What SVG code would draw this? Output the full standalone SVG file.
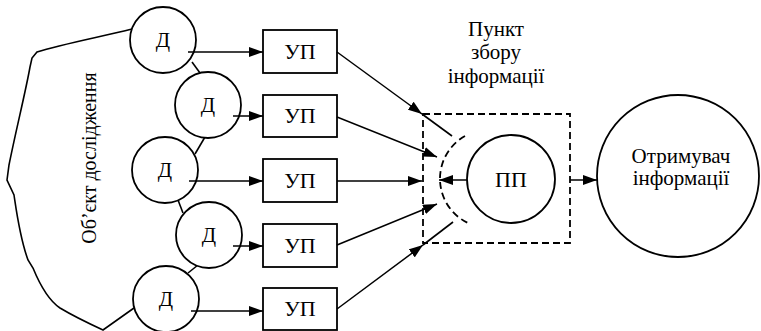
<svg xmlns="http://www.w3.org/2000/svg" width="761" height="331" viewBox="0 0 761 331" font-family="Liberation Serif">
  <defs>
    <style>
      .ln { fill: none; stroke: #000; stroke-width: 1.6; }
      .arw { fill: none; stroke: #000; stroke-width: 1.5; marker-end: url(#ah); }
      .node { fill: #fff; stroke: #000; stroke-width: 1.8; }
      .dash { fill: none; stroke: #000; stroke-width: 1.8; stroke-dasharray: 7 4; }
      .t { font-family: 'Liberation Serif', serif; font-size: 21px; fill: #000; text-anchor: middle; }
      .big { font-size: 22px; }
    </style>
    <marker id="ah" viewBox="0 0 14 10" refX="14" refY="5" markerWidth="14" markerHeight="10" orient="auto" markerUnits="userSpaceOnUse">
      <path d="M0,0 L14,5 L0,10 z" fill="#000"/>
    </marker>
  </defs>

  <rect width="761" height="331" fill="#fff"/>

  <!-- object under study: irregular outline with vertical caption -->
  <g id="object">
    <path class="ln" d="M132,29 C100,37 62,44 37,52 L32,58 L30,67 C26,90 16,130 9,165 L7,180 L14,195 C17,215 20,238 28,260 L33,268 C40,285 48,300 60,308 C75,317 90,324 103,330 L134,308"/>
    <text class="t" style="font-size:20px" transform="translate(96,158) rotate(-90)">Об’єкт дослідження</text>
  </g>

  <!-- sensor chain links -->
  <g id="sensor-links">
    <line class="ln" x1="192" y1="62" x2="200" y2="73"/>
    <line class="ln" x1="205" y1="137" x2="195" y2="154"/>
    <line class="ln" x1="178" y1="200" x2="183" y2="213"/>
    <line class="ln" x1="198" y1="265" x2="188" y2="273"/>
  </g>

  <!-- sensors -->
  <g id="d1"><circle class="node" cx="163" cy="40" r="33"/><text class="t" x="163" y="47">Д</text></g>
  <g id="d2"><circle class="node" cx="208" cy="105" r="33"/><text class="t" x="208" y="112">Д</text></g>
  <g id="d3"><circle class="node" cx="165" cy="170" r="33"/><text class="t" x="165" y="177">Д</text></g>
  <g id="d4"><circle class="node" cx="209" cy="235" r="33"/><text class="t" x="209" y="242">Д</text></g>
  <g id="d5"><circle class="node" cx="166" cy="299" r="33"/><text class="t" x="166" y="306">Д</text></g>

  <!-- transducers -->
  <g id="up1"><rect class="node" x="263" y="30" width="74" height="43"/><text class="t big" x="300" y="59">УП</text></g>
  <g id="up2"><rect class="node" x="263" y="95" width="74" height="42"/><text class="t big" x="300" y="123">УП</text></g>
  <g id="up3"><rect class="node" x="263" y="159" width="74" height="43"/><text class="t big" x="300" y="188">УП</text></g>
  <g id="up4"><rect class="node" x="263" y="224" width="74" height="43"/><text class="t big" x="300" y="253">УП</text></g>
  <g id="up5"><rect class="node" x="263" y="288" width="74" height="42"/><text class="t big" x="300" y="316">УП</text></g>

  <!-- collection point: dashed frame and receiving arc -->
  <g id="collection-point">
    <rect class="dash" x="423" y="114" width="147" height="129"/>
    <path class="dash" d="M465,136 A49,49 0 0 0 468,223"/>
    <text class="t" x="496" y="36">Пункт</text>
    <text class="t" x="496" y="59">збору</text>
    <text class="t" x="496" y="83">інформації</text>
  </g>

  <g id="pp">
    <circle class="node" cx="511" cy="179" r="44"/>
    <text class="t big" x="511" y="187">ПП</text>
  </g>

  <g id="receiver">
    <circle class="node" cx="678" cy="176" r="81"/>
    <text class="t" x="681" y="163">Отримувач</text>
    <text class="t" x="681" y="185">інформації</text>
  </g>

  <!-- connectors -->
  <g id="connectors">
    <path class="arw" d="M188,52 H263"/>
    <path class="arw" d="M233,116 H263"/>
    <path class="arw" d="M189,181 H263"/>
    <path class="arw" d="M233,246 H263"/>
    <path class="arw" d="M191,311 H263"/>

    <path class="arw" d="M337,52 L422,114"/>
    <path class="ln" d="M422,114 L452,136"/>
    <path class="arw" d="M337,117 L437,157"/>
    <path class="arw" d="M337,181 L422,181"/>
    <path class="arw" d="M467,180 L439,180"/>
    <path class="arw" d="M337,245 L437,204"/>
    <path class="arw" d="M337,309 L423,245"/>
    <path class="ln" d="M423,245 L453,222"/>

    <path class="arw" d="M570,180 L597,180"/>
  </g>
</svg>
